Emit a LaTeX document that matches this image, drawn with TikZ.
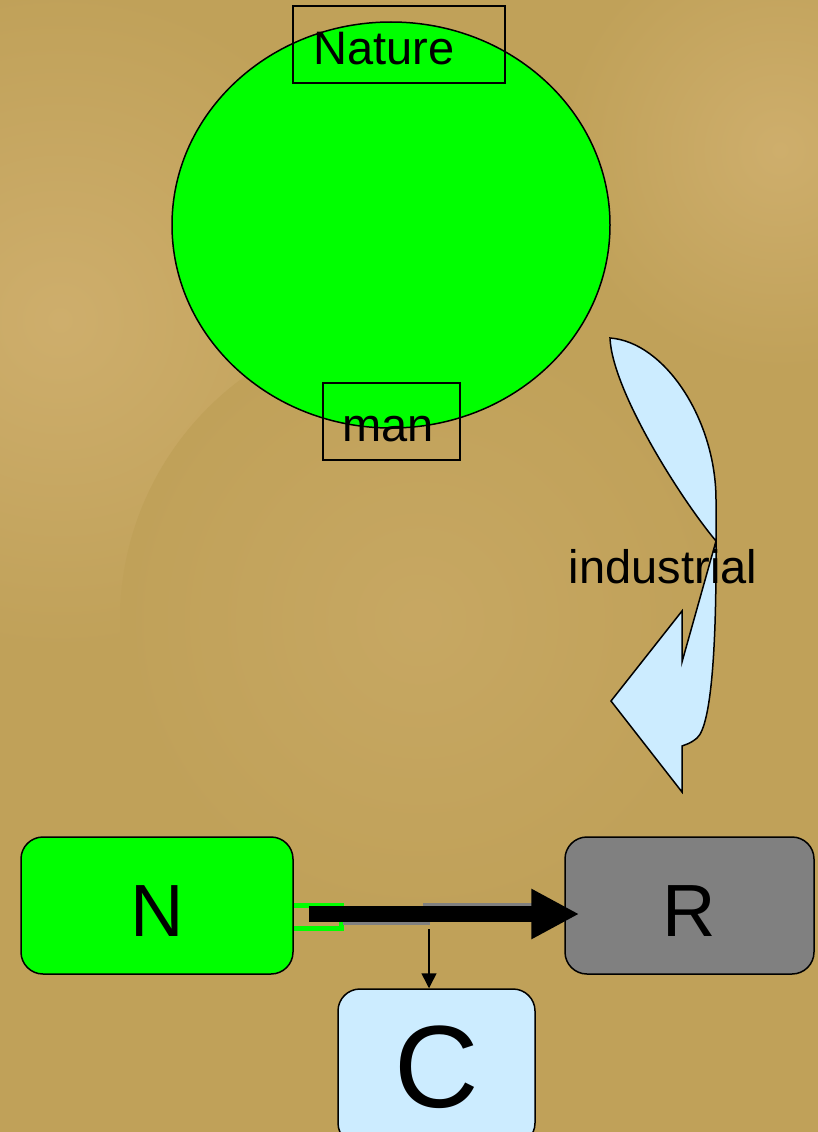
\documentclass[tikz,border=0pt]{standalone}
\usepackage{fontspec}
\setmainfont{Liberation Sans}
\usetikzlibrary{arrows.meta,calc,shapes.geometric}
\definecolor{bg}{RGB}{192,161,89}
\definecolor{bglight}{RGB}{206,174,108}
\definecolor{lgreen}{RGB}{0,255,0}
\definecolor{lblue}{RGB}{204,236,255}
\definecolor{mgray}{RGB}{128,128,128}
\begin{document}
\begin{tikzpicture}[x=1pt,y=-1pt,
  lbl/.style={font=\fontsize{47}{50}\selectfont, inner sep=0pt, anchor=base},
  framebox/.style={draw=black, line width=1.5pt, inner sep=0pt},
  rbox/.style={draw=black, line width=1.5pt, rounded corners=22pt, inner sep=0pt},
  bigtxt/.style={font=\fontsize{74}{80}\selectfont, text height=61pt, text depth=0pt}]
\useasboundingbox (0,0) rectangle (818,1132);
\clip (0,0) rectangle (818,1132);
% background
\fill[bg] (0,0) rectangle (818,1132);
\shade[inner color=bglight, outer color=bg] (60,320) circle (330);
\shade[inner color=bglight, outer color=bg] (780,150) circle (220);
\shade[inner color=bglight!50!bg, outer color=bg] (420,620) circle (300);
% top diagram
\node[ellipse, draw=black, line width=1.5pt, fill=lgreen, inner sep=0pt,
      minimum width=438pt, minimum height=406pt] (globe) at (391,225) {};
\node[framebox, minimum width=212pt, minimum height=77pt] (naturebox) at (399,44.5) {};
\node[lbl] (naturetxt) at (384,64) {Nature};
\node[framebox, minimum width=137pt, minimum height=77pt] (manbox) at (391.5,421.5) {};
\node[lbl] (mantxt) at (388,441) {man};
% curved arrow
\draw[fill=lblue, line width=1.5pt, line join=miter]
  (610,338) .. controls (665,342) and (716,420) .. (716,500)
  -- (716,560) .. controls (716,640) and (712,725) .. (697,738)
  .. controls (690,744) and (684,745) .. (682,746)
  -- (682,792) -- (611,701) -- (682,611) -- (682,662)
  -- (716,541) .. controls (680,498) and (612,390) .. (610,338) -- cycle;
\node[lbl] (indtxt) at (663,583) {industrial};
% bottom diagram
\node[rbox, fill=lgreen, minimum width=272pt, minimum height=137pt, bigtxt] (N) at (157,905.5) {N};
\node[rbox, fill=mgray, minimum width=249pt, minimum height=137pt, bigtxt] (R) at (689.5,905.5) {R};
\node[rbox, fill=lblue, minimum width=197pt, minimum height=156pt,
      font=\fontsize{117}{120}\selectfont] (C) at (436.5,1067) {C};
% connector artefacts
\draw[lgreen, line width=5pt] (N.east) -- ($(N.east)+(48,0)$) -- ($(N.east)+(48,23)$) -- ($(N.east)+(0,23)$);
\draw[mgray, line width=3pt] (423,904) -- (533,904);
\draw[mgray, line width=3pt] (343,923.5) -- (430,923.5);
% main arrow N -> R
\draw[line width=16pt, -{Triangle[length=48pt,width=47pt]}]
  ($(N.east)+(15,8.5)$) -- ($(R.west)+(15,8.5)$);
% split arrow to C
\coordinate (split) at (429,929);
\draw[line width=1.5pt, -{Triangle[length=15pt,width=15pt]}] (split) -- (split |- C.north);
\end{tikzpicture}
\end{document}
